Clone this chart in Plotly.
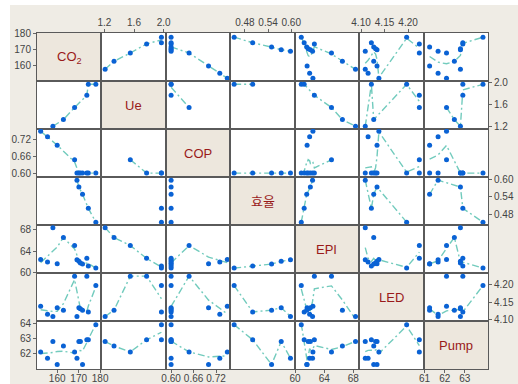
import numpy as np
import plotly.graph_objects as go
from plotly.subplots import make_subplots

# ---- data (13 observations; None = not measured) ----
names = ["CO<sub>2</sub>", "Ue", "COP", "효율", "EPI", "LED", "Pump"]
co2 = [178.0, 174.5, 173.8, 171.8, 170.8, 170.1, 169.2, 168.1, 162.9, 160.0, 158.0, 155.5, 152.3]
ue = [1.97, 1.97, 1.77, None, None, None, None, 1.55, 1.33, None, 1.21, None, None]
cop = [0.60, 0.60, 0.60, 0.60, 0.60, 0.60, 0.60, 0.648, None, 0.70, None, 0.73, 0.75]
eff = [0.452, 0.500, None, 0.549, None, 0.574, 0.598, None, None, None, None, None, None]
epi = [60.85, 61.25, 62.65, 61.6, 61.8, 62.1, 62.4, 65.0, 66.5, 61.65, 68.3, 62.0, 62.45]
led = [4.197, 4.122, 4.224, 4.127, 4.131, 4.134, 4.109, 4.224, 4.127, 4.134, 4.109, 4.115, 4.138]
pump = [63.9, 62.9, 62.9, 61.25, 62.78, 62.78, 61.67, 62.09, 62.48, 61.25, 62.78, 61.67, 62.09]

ranges = [[150.6, 180.6], [1.16, 2.03], [0.586, 0.758], [0.442, 0.609],
          [59.95, 68.8], [4.096, 4.233], [60.95, 64.15]]
col_ticks = [[160, 170, 180], [1.2, 1.6, 2.0], [0.60, 0.66, 0.72], [0.48, 0.54, 0.60],
             [60, 64, 68], [4.10, 4.15, 4.20], [61, 62, 63]]
row_ticks = [[160, 170, 180], [1.2, 1.6, 2.0], [0.60, 0.66, 0.72], [0.48, 0.54, 0.60],
             [60, 64, 68], [4.10, 4.15, 4.20], [62, 63, 64]]
tick_fmt = ["d", ".1f", ".2f", ".2f", "d", ".2f", "d"]

data = [co2, ue, cop, eff, epi, led, pump]
N = len(data)

DOT = "#0a62d4"
LINE = "#72cbbd"
DIAG = "#ede7dd"
PAPER = "#efece5"
FRAME = "#5a5a5a"
LABEL = "#9a1a1a"


def lowess(x, y, f=0.5, iters=2):
    n = len(x)
    k = min(n, max(2, int(f * n + 1e-10)))
    rw = np.ones(n)
    fit = np.array(y, dtype=float)
    for step in range(iters + 1):
        for i in range(n):
            d = np.abs(x - x[i])
            h = np.sort(d)[k - 1]
            if h <= 0:
                w = (d == 0).astype(float) * rw
            else:
                u = d / h
                w = np.where(u < 1, (1 - u ** 3) ** 3, 0.0) * rw
            sw = w.sum()
            if sw <= 0:
                fit[i] = y[i]
                continue
            xm = (w * x).sum() / sw
            ym = (w * y).sum() / sw
            sxx = (w * (x - xm) ** 2).sum()
            if sxx > 1e-14:
                b = (w * (x - xm) * (y - ym)).sum() / sxx
                fit[i] = ym + b * (x[i] - xm)
            else:
                fit[i] = ym
        if step == iters:
            break
        res = y - fit
        s = np.median(np.abs(res))
        if s <= 1e-12:
            break
        u = res / (6 * s)
        rw = np.where(np.abs(u) < 1, (1 - u ** 2) ** 2, 0.0)
    return fit


fig = make_subplots(rows=N, cols=N, horizontal_spacing=0, vertical_spacing=0)


def axid(r, c):
    idx = r * N + c + 1
    return ("x" if idx == 1 else f"x{idx}"), ("y" if idx == 1 else f"y{idx}")


for r in range(N):
    for c in range(N):
        xa, ya = axid(r, c)
        if r == c:
            fig.add_trace(go.Scatter(x=[], y=[], mode="markers", showlegend=False,
                                     hoverinfo="skip"), row=r + 1, col=c + 1)
            fig.add_shape(type="rect", xref=f"{xa} domain", yref=f"{ya} domain",
                          x0=0, x1=1, y0=0, y1=1, fillcolor=DIAG, line_width=0,
                          layer="below")
            fig.add_annotation(xref=f"{xa} domain", yref=f"{ya} domain", x=0.5, y=0.5,
                               text=names[r], showarrow=False,
                               font=dict(size=13, color=LABEL,
                                         family="Liberation Sans, Noto Sans CJK KR"))
            continue
        pts = [(xv, yv) for xv, yv in zip(data[c], data[r]) if xv is not None and yv is not None]
        pts.sort()
        xs = np.array([p[0] for p in pts], float)
        ys = np.array([p[1] for p in pts], float)
        if len(xs) >= 2:
            fy = lowess(xs, ys)
            fig.add_trace(go.Scatter(x=xs, y=fy, mode="lines", showlegend=False,
                                     line=dict(color=LINE, width=1.4, dash="7px,3px,2px,3px"),
                                     hoverinfo="skip"), row=r + 1, col=c + 1)
        fig.add_trace(go.Scatter(x=xs, y=ys, mode="markers", showlegend=False,
                                 marker=dict(color=DOT, size=5)), row=r + 1, col=c + 1)

axis_common = dict(showgrid=False, zeroline=False, showline=True, mirror=True,
                   linecolor=FRAME, linewidth=1, ticks="", showticklabels=False,
                   automargin=False)
tickfont = dict(size=10, color="#444", family="Liberation Sans, Arial, sans-serif")

for r in range(N):
    for c in range(N):
        fig.update_xaxes(row=r + 1, col=c + 1, range=ranges[c], **axis_common)
        fig.update_yaxes(row=r + 1, col=c + 1, range=ranges[r], **axis_common)

for c in range(N):
    top = c % 2 == 1
    fig.update_xaxes(row=1 if top else N, col=c + 1, side="top" if top else "bottom",
                     ticks="outside", ticklen=3, tickcolor="#666", showticklabels=True,
                     ticklabelstandoff=-1 if top else -3,
                     tickvals=col_ticks[c], tickformat=tick_fmt[c], tickfont=tickfont)
for r in range(N):
    right = r % 2 == 1
    fig.update_yaxes(row=r + 1, col=N if right else 1, side="right" if right else "left",
                     ticks="outside", ticklen=3, tickcolor="#666", showticklabels=True,
                     tickvals=row_ticks[r], tickformat=tick_fmt[r], tickfont=tickfont)

W, H = 518, 384
L, R, T, B = 37, 30, 33, 15
pw, ph = W - L - R, H - T - B
fig.add_shape(type="rect", xref="paper", yref="paper", x0=-L / pw, x1=(10 - L) / pw,
              y0=-B / ph, y1=(H - B) / ph, fillcolor="white", line_width=0, layer="below")
fig.add_shape(type="rect", xref="paper", yref="paper", x0=-L / pw, x1=(W - L) / pw,
              y0=(H - B - 5) / ph, y1=(H - B) / ph, fillcolor="white", line_width=0,
              layer="below")

fig.update_layout(width=W, height=H, margin=dict(l=L, r=R, t=T, b=B),
                  paper_bgcolor=PAPER, plot_bgcolor="white", template="none",
                  showlegend=False)

fig.write_html("out.html")
